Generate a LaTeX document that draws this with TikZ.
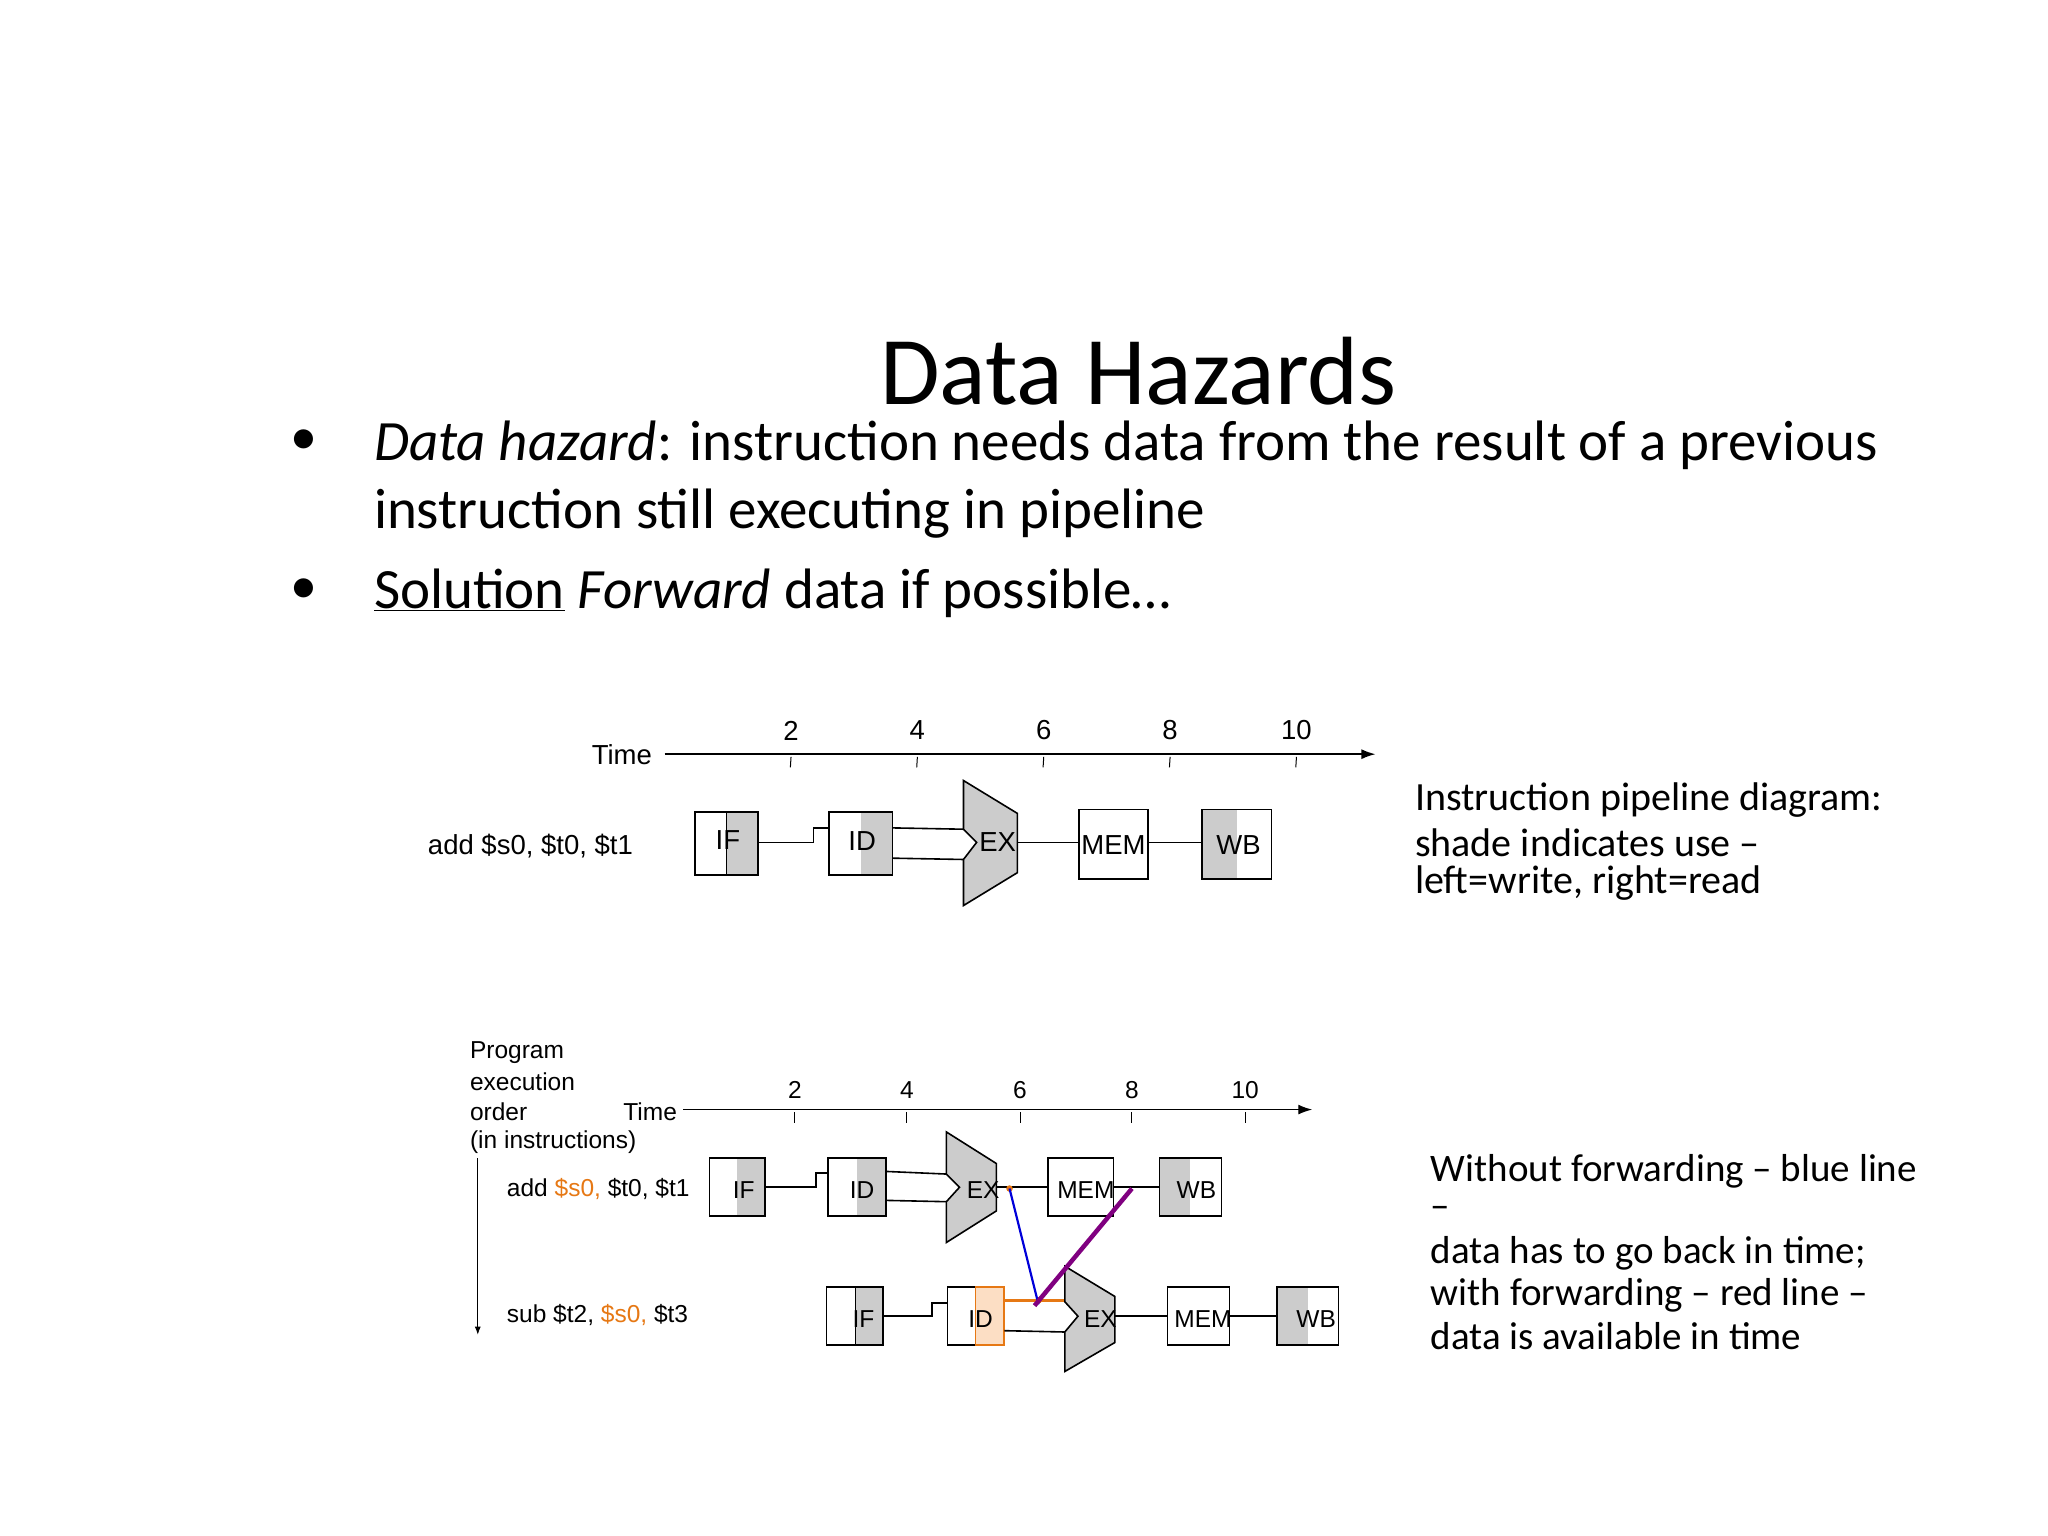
\documentclass[tikz,border=0pt]{standalone}
\usepackage{fontspec}
\usetikzlibrary{arrows.meta}
\setmainfont{Carlito}
\newfontfamily\arial{Liberation Sans}
\definecolor{sh}{RGB}{204,204,204}
\definecolor{org}{RGB}{230,120,20}
\definecolor{lorg}{RGB}{252,222,196}
\definecolor{purp}{RGB}{128,0,128}
\begin{document}
\begin{tikzpicture}[x=1.316pt,y=-1.316pt,
  ln/.style={line width=1.6pt},
  ax/.style={line width=1.4pt,-{Latex[length=14pt,width=10pt]}},
  lab/.style={font=\arial\fontsize{27.5}{32}\selectfont},
  labb/.style={font=\arial\fontsize{24.5}{28}\selectfont},
  body/.style={font=\fontsize{40}{46}\selectfont,anchor=west,inner sep=0},
  bodyb/.style={font=\fontsize{39}{46}\selectfont,anchor=west,inner sep=0},
  big/.style={font=\fontsize{57}{64}\selectfont,anchor=west,inner sep=0}]
\useasboundingbox (0,0) rectangle (1556,1167);
% title and bullets
\node[font=\fontsize{97}{104}\selectfont] (title) at (865,282) {Data Hazards};
\node[font=\fontsize{54}{60}\selectfont] (b1) at (231,336) {\textbullet};
\node[font=\fontsize{54}{60}\selectfont] (b2) at (231,449) {\textbullet};
\node[big] (t1) at (284,338) {\textit{Data hazard}: instruction needs data from the result of a previous};
\node[big] (t2) at (284,390) {instruction still executing in pipeline};
\node[big] (t3) at (284,451) {\underline{Solution} \textit{Forward} data if possible\dots};
\node[body] (r1) at (1075,608) {Instruction pipeline diagram:};
\node[body] (r2) at (1075,640) {shade indicates use --};
\node[body] (r3) at (1075,671) {left=write, right=read};
\node[bodyb] (s1) at (1087,890) {Without forwarding -- blue line};
\node[bodyb] (s2) at (1087,921) {--};
\node[bodyb] (s3) at (1087,952) {data has to go back in time;};
\node[bodyb] (s4) at (1087,984) {with forwarding -- red line --};
\node[bodyb] (s5) at (1087,1015) {data is available in time};
% ---------- diagram 1
\coordinate (a0) at (505,573); \coordinate (a1) at (1045,573);
\draw[ax] (a0) -- (a1);
\node[lab,anchor=east] (time1) at (498,573) {Time};
\foreach \x/\n in {601/2,697/4,793/6,889/8,985/10}{
  \draw[line width=1pt] (\x,575) -- (\x-0.5,583);
  \node[lab] (n1\n) at (\x,555) {\n};}
\node[lab] (ins1) at (403,643) {add \$s0, \$t0, \$t1};
\fill[sh] (552,617) rectangle (576,665);
\draw[ln] (528,617) rectangle (576,665); \draw[line width=1pt] (552,617)--(552,665);
\node[lab] (if1) at (553,638) {IF};
\fill[sh] (654,617) rectangle (678,665);
\draw[ln] (630,617) rectangle (678,665);
\node[lab] (id1) at (655,639) {ID};
\draw[ln] (576,640) -- (618,640) -- (618,629) -- (630,629);
\draw[ln] (678,629) -- (732,630); \draw[ln] (678,652) -- (732,653);
\filldraw[fill=sh,ln] (732,593) -- (773,618) -- (773,663) -- (732,688) -- (732,653) -- (742,640) -- (732,630) -- cycle;
\node[lab] (ex1) at (758,640) {EX};
\draw[ln] (773,640) -- (820,640);
\draw[ln] (820,615) rectangle (872,668);
\node[lab] (mem1) at (846,642) {MEM};
\draw[ln] (872,640) -- (913,640);
\fill[sh] (913,615) rectangle (940,668);
\draw[ln] (913,615) rectangle (966,668);
\node[lab] (wb1) at (941,642) {WB};
% ---------- diagram 2
\node[labb,anchor=west,align=left,inner sep=0] (p1) at (357,800) {Program};
\node[labb,anchor=west,inner sep=0] (p2) at (357,822) {execution};
\node[labb,anchor=west,inner sep=0] (p3) at (357,845) {order};
\node[labb,anchor=west,inner sep=0] (p4) at (357,868) {(in instructions)};
\coordinate (va) at (363,880); \coordinate (vb) at (363,1014);
\draw[line width=0.8pt,-{Latex[length=8pt,width=6pt]}] (va) -- (vb);
\draw[ax] (519,843) -- (997,843);
\node[labb,anchor=east] (time2) at (517,845) {Time};
\foreach \x/\n in {604/2,689/4,775/6,860/8,946/10}{
  \draw[line width=1pt] (\x,845) -- (\x,853);
  \node[labb] (n2\n) at (\x,828) {\n};}
\node[labb,anchor=west,inner sep=0] (ins2) at (385,903) {add \textcolor{org}{\$s0,} \$t0, \$t1};
\node[labb,anchor=west,inner sep=0] (ins3) at (385,999) {sub \$t2, \textcolor{org}{\$s0,} \$t3};
% row 1
\fill[sh] (560,880) rectangle (581,924);
\draw[ln] (539,880) rectangle (581,924);
\node[labb] (if2) at (565,904) {IF};
\fill[sh] (651,880) rectangle (673,924);
\draw[ln] (629,880) rectangle (673,924);
\node[labb] (id2) at (655,904) {ID};
\draw[ln] (581,902) -- (620,902) -- (620,891) -- (629,891);
\draw[ln] (673,890) -- (719,892); \draw[ln] (673,912) -- (719,913);
\filldraw[fill=sh,ln] (719,860) -- (757,884) -- (757,920) -- (719,944) -- (719,913) -- (729,902) -- (719,892) -- cycle;
\node[labb] (ex2) at (747,904) {EX};
\draw[ln] (757,902) -- (796,902);
\draw[ln] (796,880) rectangle (846,924);
\node[labb] (mem2) at (825,904) {MEM};
\draw[ln] (846,902) -- (881,902);
\fill[sh] (881,880) rectangle (904,924);
\draw[ln] (881,880) rectangle (928,924);
\node[labb] (wb2) at (909,904) {WB};
% row 2
\fill[sh] (650,978) rectangle (671,1022);
\draw[ln] (628,978) rectangle (671,1022); \draw[line width=1pt] (650,978)--(650,1022);
\node[labb] (if3) at (656,1002) {IF};
\fill[lorg] (741,978) rectangle (763,1022);
\draw[ln] (720,978) rectangle (763,1022);
\draw[ln,org] (741,978) rectangle (763,1022);
\node[labb] (id3) at (745,1002) {ID};
\draw[ln] (671,1000) -- (708,1000) -- (708,990) -- (720,990);
\draw[ln] (763,1011) -- (809,1012);
\draw[line width=3pt,org] (763,988) -- (809,988);
\filldraw[fill=sh,ln] (809,962) -- (847,985) -- (847,1020) -- (809,1042) -- (809,1012) -- (819,1000) -- (809,989) -- cycle;
\node[labb] (ex3) at (836,1002) {EX};
\draw[ln] (847,1000) -- (887,1000);
\draw[ln] (887,978) rectangle (934,1022);
\node[labb] (mem3) at (914,1002) {MEM};
\draw[ln] (934,1000) -- (970,1000);
\fill[sh] (970,978) rectangle (994,1022);
\draw[ln] (970,978) rectangle (1017,1022);
\node[labb] (wb3) at (1000,1002) {WB};
% forwarding lines
\coordinate (exo) at (767,903);
\coordinate (idi) at (789,991);
\coordinate (memo) at (860,903);
\fill[org] (exo) circle (2.5);
\fill[org] (789,988) circle (2.5);
\draw[line width=2.2pt,blue!85!black] (exo) -- (idi);
\draw[line width=4.5pt,purp] (memo) -- (786,992);
\end{tikzpicture}
\end{document}
